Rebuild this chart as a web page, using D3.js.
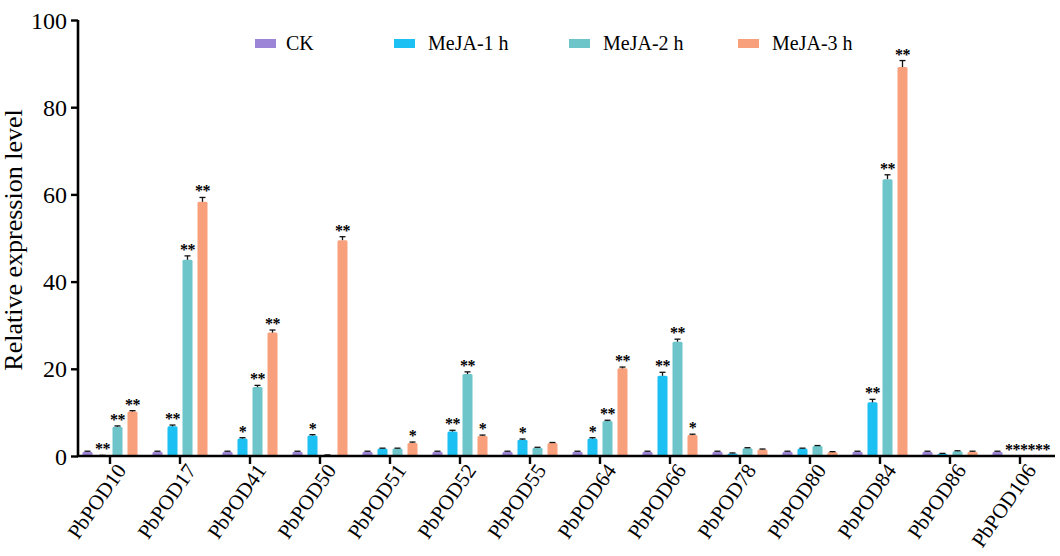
<!DOCTYPE html>
<html>
<head>
<meta charset="utf-8">
<script src="https://cdn.jsdelivr.net/npm/d3@7"></script>
<style>
  body { margin: 0; background: #fff; }
  svg { display: block; }
</style>
</head>
<body>
<script>
// genes on the x axis
var categories = ['PbPOD10', 'PbPOD17', 'PbPOD41', 'PbPOD50', 'PbPOD51', 'PbPOD52', 'PbPOD55',
    'PbPOD64', 'PbPOD66', 'PbPOD78', 'PbPOD80', 'PbPOD84', 'PbPOD86', 'PbPOD106'];
var series = ['CK', 'MeJA-1 h', 'MeJA-2 h', 'MeJA-3 h'];
var yTicks = [0, 20, 40, 60, 80, 100];

// relative expression
var ck    = [1.0, 1.0, 1.0, 1.0, 1.0, 1.0, 1.0, 1.0, 1.0, 1.0, 1.0, 1.0, 1.0, 1.0];
var meja1 = [0.1, 6.8, 4.0, 4.7, 1.7, 5.6, 3.7, 4.0, 18.4, 0.6, 1.7, 12.3, 0.5, 0.05];
var meja2 = [6.7, 45.0, 15.8, 0.2, 1.7, 18.8, 1.9, 8.0, 26.2, 1.8, 2.3, 63.5, 1.1, 0.05];
var meja3 = [10.2, 58.3, 28.3, 49.5, 3.0, 4.6, 3.0, 20.1, 4.8, 1.5, 0.9, 89.2, 1.0, 0.05];

// error bars (sd)
var ckErr    = [0.1, 0.1, 0.1, 0.1, 0.1, 0.1, 0.1, 0.1, 0.1, 0.1, 0.1, 0.1, 0.1, 0.1];
var meja1Err = [0.05, 0.3, 0.2, 0.2, 0.1, 0.3, 0.2, 0.2, 0.8, 0.1, 0.1, 0.7, 0.1, 0.02];
var meja2Err = [0.2, 0.9, 0.4, 0.05, 0.1, 0.5, 0.1, 0.2, 0.6, 0.1, 0.1, 1.0, 0.1, 0.02];
var meja3Err = [0.2, 1.0, 0.6, 0.8, 0.2, 0.2, 0.1, 0.3, 0.2, 0.1, 0.1, 1.5, 0.1, 0.02];

// significance marks
var ckSig    = ['', '', '', '', '', '', '', '', '', '', '', '', '', ''];
var meja1Sig = ['**', '**', '*', '*', '', '**', '*', '*', '**', '', '', '**', '', '**'];
var meja2Sig = ['**', '**', '**', '', '', '**', '', '**', '**', '', '', '**', '', '**'];
var meja3Sig = ['**', '**', '**', '**', '*', '*', '', '**', '*', '', '', '**', '', '**'];

var colors = ['#9c85d6', '#1cc0f2', '#6dc5c9', '#f8a07b'];
var serif = '"Liberation Serif", "DejaVu Serif", serif';

var width = 1060, height = 556;
var margin = { left: 78, top: 20, bottom: 456 };

var svg = d3.select('body').append('svg')
    .attr('width', width)
    .attr('height', height)
    .style('font-family', serif);

var values = [ck, meja1, meja2, meja3];
var errs = [ckErr, meja1Err, meja2Err, meja3Err];
var sigs = [ckSig, meja1Sig, meja2Sig, meja3Sig];

var x0 = d3.scaleBand().domain(categories).range([75, 1055]);
var x1 = d3.scaleBand().domain(series).range([5, 65]).paddingInner(1 / 3).paddingOuter(1 / 6);
var y = d3.scaleLinear().domain([0, 100]).range([margin.bottom, margin.top]);

function cx(d) { return x0(d.cat) + x1(d.ser) + x1.bandwidth() / 2; }

// build flat list of bars
var bars = [];
categories.forEach(function (c, i) {
    series.forEach(function (s, j) {
        bars.push({ cat: c, ser: s, idx: j, v: values[j][i], e: errs[j][i], sig: sigs[j][i] });
    });
});

var groups = svg.append('g').attr('class', 'bars');

groups.selectAll('rect')
    .data(bars)
    .enter().append('rect')
    .attr('x', function (d) { return x0(d.cat) + x1(d.ser); })
    .attr('y', function (d) { return y(d.v); })
    .attr('width', x1.bandwidth())
    .attr('height', function (d) { return y(0) - y(d.v); })
    .attr('rx', 1.5)
    .attr('fill', function (d) { return colors[d.idx]; });

// error bars
var eb = groups.selectAll('g.err')
    .data(bars)
    .enter().append('g')
    .attr('class', 'err')
    .attr('stroke', '#111')
    .attr('stroke-width', 1.3);

eb.append('line')
    .attr('x1', cx)
    .attr('x2', cx)
    .attr('y1', function (d) { return y(d.v); })
    .attr('y2', function (d) { return y(d.v + d.e); });

eb.append('line')
    .attr('x1', function (d) { return cx(d) - 3; })
    .attr('x2', function (d) { return cx(d) + 3; })
    .attr('y1', function (d) { return y(d.v + d.e); })
    .attr('y2', function (d) { return y(d.v + d.e); });

// stars
groups.selectAll('text.sig')
    .data(bars.filter(function (d) { return d.sig; }))
    .enter().append('text')
    .attr('class', 'sig')
    .attr('x', cx)
    .attr('y', function (d) { return y(d.v + d.e) - 1; })
    .attr('text-anchor', 'middle')
    .style('font-family', serif)
    .style('font-size', '16px')
    .style('font-weight', 'bold')
    .style('letter-spacing', '-0.5px')
    .text(function (d) { return d.sig; });

// y axis
var yAxis = svg.append('g')
    .attr('transform', 'translate(' + margin.left + ',0)')
    .call(d3.axisLeft(y).tickValues(yTicks).tickSize(7).tickPadding(4));
yAxis.select('.domain').attr('stroke-width', 2.6).attr('d', 'M0,' + margin.top + 'V' + (margin.bottom + 1));
yAxis.selectAll('.tick line').attr('stroke-width', 2.4);
yAxis.selectAll('.tick text')
    .style('font-family', serif)
    .style('font-size', '24px')
    .attr('dy', '0.34em');

// x axis
var xAxis = svg.append('g')
    .attr('transform', 'translate(0,' + margin.bottom + ')')
    .call(d3.axisBottom(x0).tickSize(8).tickFormat(''));
xAxis.select('.domain').attr('stroke-width', 2.6).attr('d', 'M' + (margin.left - 1) + ',0H1055');
xAxis.selectAll('.tick line').attr('stroke-width', 2.4);

xAxis.selectAll('.tick')
    .append('text')
    .attr('transform', 'translate(5,6) rotate(-55)')
    .attr('text-anchor', 'end')
    .attr('dy', '0.7em')
    .attr('fill', '#000')
    .style('font-family', serif)
    .style('font-size', '21px')
    .text(function (d) { return d; });

// y title
svg.append('text')
    .attr('transform', 'translate(22,240) rotate(-90)')
    .attr('text-anchor', 'middle')
    .style('font-family', serif)
    .style('font-size', '26px')
    .text('Relative expression level');

// legend
var legendX = [255, 394, 569, 738];
var legend = svg.append('g').attr('class', 'legend');
series.forEach(function (s, j) {
    legend.append('rect')
        .attr('x', legendX[j])
        .attr('y', 39)
        .attr('width', 21)
        .attr('height', 9)
        .attr('fill', colors[j]);
    legend.append('text')
        .attr('x', legendX[j] + (j === 0 ? 31 : 34))
        .attr('y', 50)
        .style('font-family', serif)
        .style('font-size', '20px')
        .text(s);
});
</script>
</body>
</html>
